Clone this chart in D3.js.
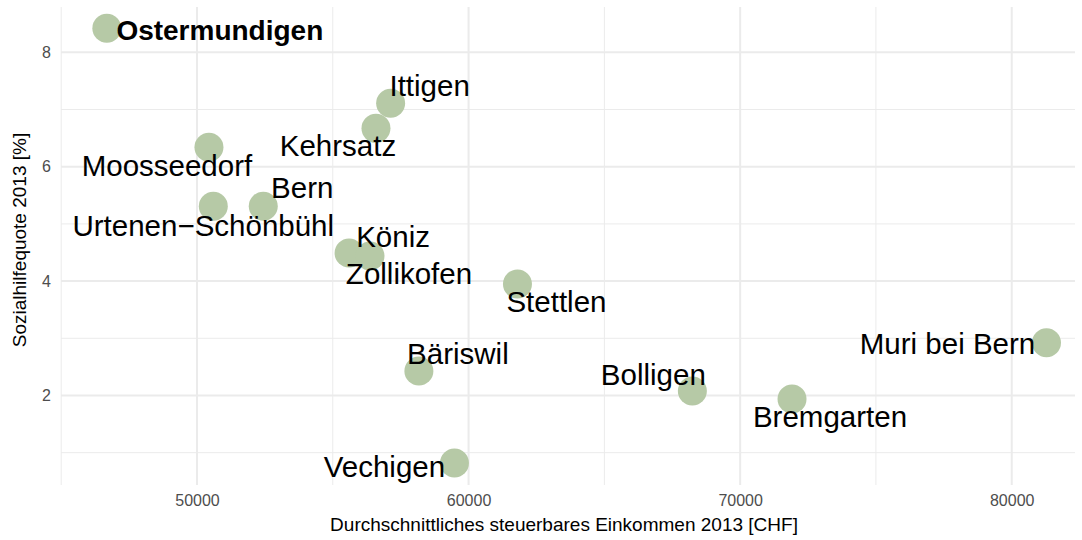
<!DOCTYPE html>
<html>
<head>
<meta charset="utf-8">
<script src="https://cdn.jsdelivr.net/npm/d3@7"></script>
<style>
  html, body { margin: 0; padding: 0; background: #fff; }
  svg text { font-family: "Liberation Sans", Arial, Helvetica, sans-serif; }
</style>
</head>
<body>
<svg id="chart" width="1082" height="540"></svg>
<script>
// ---- data ----
const municipalities = ["Ostermundigen", "Ittigen", "Kehrsatz", "Moosseedorf", "Bern",
  "Urtenen\u2212Schönbühl", "Köniz", "Zollikofen", "Stettlen", "Bäriswil", "Vechigen",
  "Bolligen", "Bremgarten", "Muri bei Bern"];
const income = [46680, 57130, 56590, 50440, 52440, 50600, 55600, 56370, 61800, 58170, 59480, 68240, 71910, 81280];
const socialRate = [8.42, 7.11, 6.67, 6.34, 5.31, 5.31, 4.49, 4.44, 3.95, 2.43, 0.82, 2.08, 1.94, 2.92];
const highlighted = ["Ostermundigen"];
const xTicks = [50000, 60000, 70000, 80000];
const xMinorTicks = [45000, 55000, 65000, 75000];
const yTicks = [2, 4, 6, 8];
const yMinorTicks = [1, 3, 5, 7];
const xTitle = "Durchschnittliches steuerbares Einkommen 2013 [CHF]";
const yTitle = "Sozialhilfequote 2013 [%]";

// ---- layout (label placement offsets in px, relative to the point: centre x, baseline y) ----
const labelOffsets = [
  [113, 12], [39, -7], [-38, 28], [-42, 29], [39, -8], [-10, 30], [44, -6],
  [39, 28], [39, 28], [39, -7], [-70, 14], [-39, -6], [38, 28], [-99, 11]
];

const W = 1082, H = 540;
const margin = { top: 7, right: 7, bottom: 55, left: 61 };
const svg = d3.select("#chart");

const x = d3.scaleLinear().domain([44992, 82330]).range([margin.left, W - margin.right]);
const y = d3.scaleLinear().domain([0.435, 8.792]).range([H - margin.bottom, margin.top]);

const grid = svg.append("g");
// minor grid
grid.selectAll("line.xmin").data(xMinorTicks).join("line")
  .attr("x1", d => x(d)).attr("x2", d => x(d))
  .attr("y1", margin.top).attr("y2", H - margin.bottom)
  .attr("stroke", "#ebebeb").attr("stroke-width", 1);
grid.selectAll("line.ymin").data(yMinorTicks).join("line")
  .attr("y1", d => y(d)).attr("y2", d => y(d))
  .attr("x1", margin.left).attr("x2", W - margin.right)
  .attr("stroke", "#ebebeb").attr("stroke-width", 1);
// major grid
grid.selectAll("line.xmaj").data(xTicks).join("line")
  .attr("x1", d => x(d)).attr("x2", d => x(d))
  .attr("y1", margin.top).attr("y2", H - margin.bottom)
  .attr("stroke", "#ebebeb").attr("stroke-width", 2);
grid.selectAll("line.ymaj").data(yTicks).join("line")
  .attr("y1", d => y(d)).attr("y2", d => y(d))
  .attr("x1", margin.left).attr("x2", W - margin.right)
  .attr("stroke", "#ebebeb").attr("stroke-width", 2);

// axes (ticks only as labels)
const xAxis = svg.append("g")
  .attr("transform", `translate(0,${H - margin.bottom})`)
  .call(d3.axisBottom(x).tickValues(xTicks).tickFormat(d3.format("d")).tickSize(0).tickPadding(10));
xAxis.select(".domain").remove();
xAxis.selectAll("text").attr("fill", "#4d4d4d").style("font-size", "16px")
  .style("font-family", '"Liberation Sans", Arial, sans-serif');

const yAxis = svg.append("g")
  .attr("transform", `translate(${margin.left},0)`)
  .call(d3.axisLeft(y).tickValues(yTicks).tickFormat(d3.format("d")).tickSize(0).tickPadding(10));
yAxis.select(".domain").remove();
yAxis.selectAll("text").attr("fill", "#4d4d4d").style("font-size", "16px")
  .style("font-family", '"Liberation Sans", Arial, sans-serif');

// axis titles
svg.append("text")
  .attr("x", (margin.left + W - margin.right) / 2 - 4)
  .attr("y", 531)
  .attr("text-anchor", "middle")
  .attr("fill", "#000")
  .style("font-size", "19px")
  .text(xTitle);

svg.append("text")
  .attr("transform", `translate(26,${(margin.top + H - margin.bottom) / 2 - 6}) rotate(-90)`)
  .attr("text-anchor", "middle")
  .attr("fill", "#000")
  .style("font-size", "19px")
  .text(yTitle);

// points
const data = municipalities.map((m, i) => ({ name: m, x: income[i], y: socialRate[i], off: labelOffsets[i] }));
svg.append("g").selectAll("circle").data(data).join("circle")
  .attr("cx", d => x(d.x)).attr("cy", d => y(d.y))
  .attr("r", 14.5)
  .attr("fill", "#b6c9a6");

// labels
svg.append("g").selectAll("text").data(data).join("text")
  .attr("x", d => x(d.x) + d.off[0])
  .attr("y", d => y(d.y) + d.off[1])
  .attr("text-anchor", "middle")
  .attr("fill", "#000")
  .style("font-size", d => highlighted.includes(d.name) ? "28px" : "29.5px")
  .style("font-weight", d => highlighted.includes(d.name) ? "bold" : "normal")
  .text(d => d.name);
</script>
</body>
</html>
